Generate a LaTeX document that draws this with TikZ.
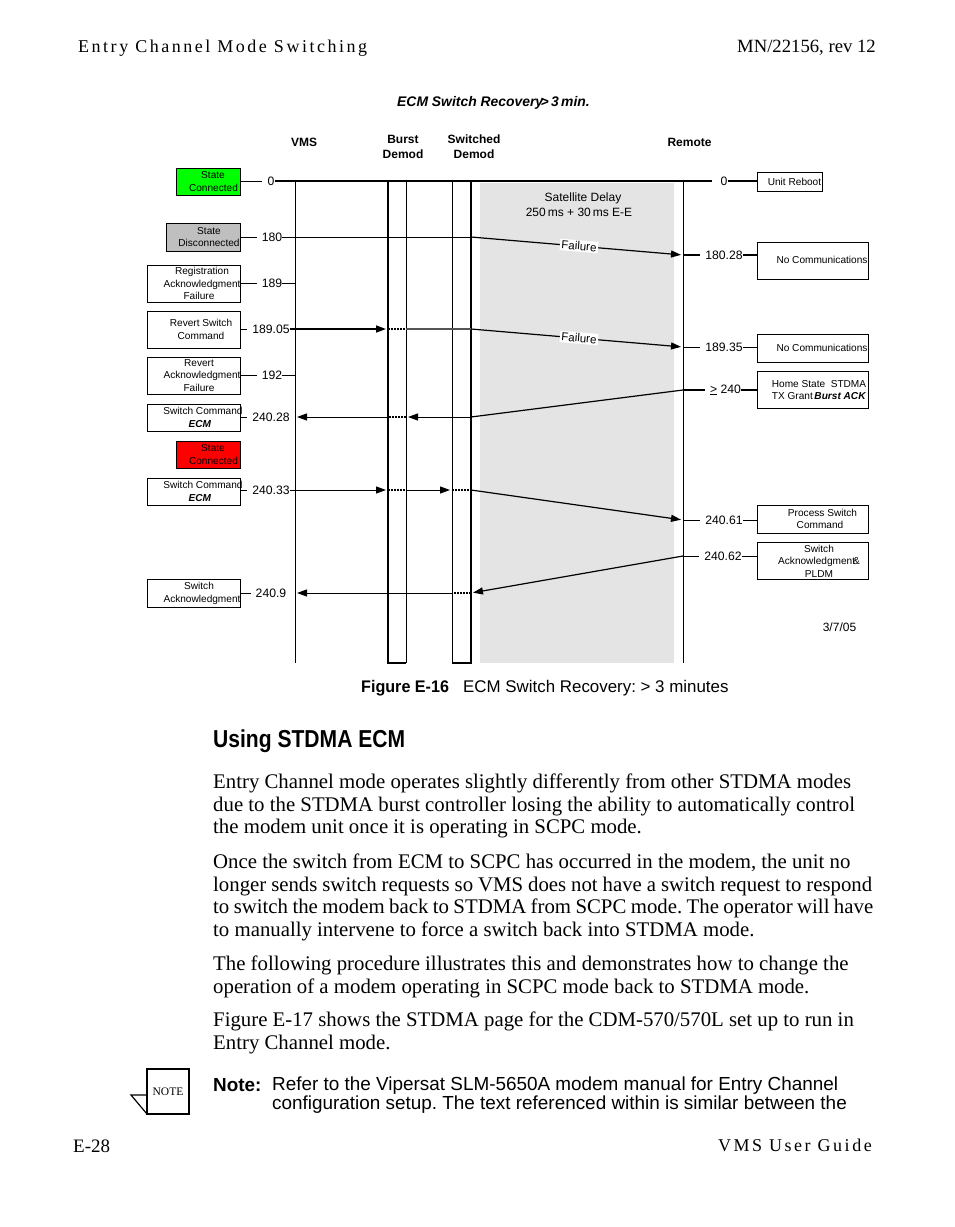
\documentclass[tikz,border=0pt]{standalone}
\usepackage{fontspec}
\setmainfont{Liberation Serif}
\setsansfont{Liberation Sans}
\newfontfamily\spacedfont[LetterSpace=14]{Liberation Serif}
\newfontfamily\narrowfont[FakeStretch=0.86]{Liberation Sans}
\newfontfamily\capfont[FakeStretch=0.96]{Liberation Sans}
\usetikzlibrary{arrows.meta}
\definecolor{ecmgreen}{HTML}{00FF00}
\definecolor{ecmred}{HTML}{FF0000}
\definecolor{ecmgrey}{HTML}{BFBFBF}
\definecolor{delaygrey}{HTML}{E4E4E4}
\definecolor{crossgrey}{HTML}{555555}

\begin{document}
\frenchspacing
\begin{tikzpicture}[
        x=1pt, y=-1pt,
        evbox/.style={draw=black, line width=1pt, inner sep=0pt},
        boxtxt/.style={font=\sffamily\fontsize{10.1}{12.5}\selectfont, align=center, inner sep=0pt},
        tlbl/.style={font=\sffamily\fontsize{12.2}{14}\selectfont, inner sep=0pt},
        headlbl/.style={font=\sffamily\bfseries\fontsize{12}{15}\selectfont, align=center, inner sep=0pt},
        paralbl/.style={font=\fontsize{20.8}{22.8}\selectfont, align=left, anchor=north west, inner sep=0pt},
        faillbl/.style={font=\sffamily\fontsize{11.5}{13}\selectfont, fill=white, rotate=-5, inner sep=1.5pt},
        stub/.style={line width=1pt, shorten >=5pt},
        msg/.style={line width=1pt, -{Triangle[length=10pt,width=7pt]}, shorten >=2pt},
        cross/.style={line width=1.2pt, dash pattern=on 2pt off 1pt},
      ]
      \useasboundingbox (0,0) rectangle (954,1227);
      \fill[white] (0,0) rectangle (954,1227);

      % Running head and foot
      \node[font=\spacedfont\fontsize{18}{20}\selectfont, anchor=west, inner sep=0pt] (runhead) at (78,48) {Entry Channel Mode Switching};
      \node[font=\fontsize{18.7}{20}\selectfont, anchor=east, inner sep=0pt] (runrev) at (876,47.5) {MN/22156, rev 12};
      \node[font=\fontsize{19}{20}\selectfont, anchor=west, inner sep=0pt] (runpage) at (73,1146) {E-28};
      \node[font=\spacedfont\fontsize{18}{20}\selectfont, anchor=east, inner sep=0pt] (runguide) at (872,1145.5) {VMS User Guide};

      % Satellite delay band
      \fill[delaygrey] (480,183) rectangle (674,663);

      % Lifelines
      \coordinate (vms) at (295,182);
      \coordinate (burstl) at (388,182);
      \coordinate (burstr) at (406,182);
      \coordinate (swl) at (452,182);
      \coordinate (swr) at (471,182);
      \coordinate (remote) at (683,182);
      \draw[line width=1pt] (vms) -- (295,663);
      \draw[line width=1pt] (remote) -- (683,663);
      \draw[line width=1pt] (burstr) -- (406,663);
      \draw[line width=1pt] (swl) -- (452,663);
      \draw[line width=1.8pt] (burstl) -- (388,663) -- (406,663);
      \draw[line width=1.8pt] (452,663) -- (471,663) -- (swr);

      % Title and column heads
      \node[font=\sffamily\bfseries\itshape\fontsize{13.9}{15}\selectfont, inner sep=0pt] (title) at (493.5,103) {ECM Switch Recovery\hspace{-2.5pt}>\,3\,min.};
      \node[headlbl] (hvms) at (304,142.5) {VMS};
      \node[headlbl] (hburst) at (403,147) {Burst\\Demod};
      \node[headlbl] (hsw) at (474,147) {Switched\\Demod};
      \node[headlbl] (hrem) at (689.5,142.5) {Remote};
      \node[tlbl, align=center, font=\sffamily\fontsize{12}{15}\selectfont] (hdelay) at (579,204.5) {\hspace*{8pt}Satellite Delay\\250\,ms + 30\,ms E-E};

      % Left boxes
      \node[evbox, fill=ecmgreen, minimum width=64pt, minimum height=27pt] (bconn) at (208,181.5) {};
      \node[boxtxt] at (208,181.5) {\hspace*{10pt}State\\\hspace*{11pt}Connected};
      \node[evbox, fill=ecmgrey, minimum width=74pt, minimum height=28pt] (bdisc) at (203,237) {};
      \node[boxtxt] at (209,237) {State\\Disconnected};
      \node[evbox, minimum width=93pt, minimum height=37pt] (breg) at (193.5,283.5) {};
      \node[boxtxt] at (202,283.5) {Registration\\Acknowledgment\\\hspace*{-6pt}Failure};
      \node[evbox, minimum width=93pt, minimum height=37pt] (brev) at (193.5,329.5) {};
      \node[boxtxt, font=\sffamily\fontsize{10.1}{13}\selectfont] at (201,329.5) {Revert Switch\\Command};
      \node[evbox, minimum width=93pt, minimum height=37pt] (brack) at (193.5,375.5) {};
      \node[boxtxt] at (202,375.5) {\hspace*{-6pt}Revert\\Acknowledgment\\\hspace*{-6pt}Failure};
      \node[evbox, minimum width=93pt, minimum height=27pt] (bcmda) at (193.5,417.5) {};
      \node[boxtxt, font=\sffamily\fontsize{10.1}{13}\selectfont] at (203,417.5) {Switch Command\\\hspace*{-6pt}\textbf{\textit{ECM}}};
      \node[evbox, fill=ecmred, minimum width=64pt, minimum height=27pt] (bred) at (208,454.5) {};
      \node[boxtxt] at (208,454.5) {\hspace*{10pt}State\\\hspace*{11pt}Connected};
      \node[evbox, minimum width=93pt, minimum height=27pt] (bcmdb) at (193.5,491.5) {};
      \node[boxtxt, font=\sffamily\fontsize{10.1}{13}\selectfont] at (203,491.5) {Switch Command\\\hspace*{-6pt}\textbf{\textit{ECM}}};
      \node[evbox, minimum width=93pt, minimum height=28pt] (back) at (193.5,593) {};
      \node[boxtxt] at (202,593.5) {\hspace*{-6pt}Switch\\Acknowledgment};

      % Right boxes
      \node[evbox, line width=0.8pt, minimum width=65pt, minimum height=19pt] (rboot) at (789.5,181.5) {};
      \node[boxtxt] at (794.5,182) {Unit Reboot};
      \node[evbox, line width=0.8pt, minimum width=111pt, minimum height=37pt] (rnoa) at (812.5,260.5) {};
      \node[boxtxt] at (822,260) {No Communications};
      \node[evbox, line width=0.8pt, minimum width=111pt, minimum height=28pt] (rnob) at (812.5,348) {};
      \node[boxtxt] at (822,348) {No Communications};
      \node[evbox, line width=0.8pt, minimum width=111pt, minimum height=37pt] (rhome) at (812.5,390) {};
      \node[boxtxt] at (819,390) {Home State\ \ STDMA\\TX Grant\,\textbf{\textit{Burst ACK}}};
      \node[evbox, line width=0.8pt, minimum width=111pt, minimum height=28pt] (rproc) at (812.5,519) {};
      \node[boxtxt] at (820,519) {\hspace*{5pt}Process Switch\\Command};
      \node[evbox, line width=0.8pt, minimum width=111pt, minimum height=37pt] (rsack) at (812.5,560.5) {};
      \node[boxtxt] at (819,561) {Switch\\Acknowledgment\hspace{-2pt}\&\\PLDM};

      % Time labels, VMS side
      \node[tlbl] (t0) at (271,181) {0};
      \node[tlbl] (t180) at (272,237) {180};
      \node[tlbl] (t189) at (272,283) {189};
      \node[tlbl] (t18905) at (271,329) {189.05};
      \node[tlbl] (t192) at (272,375) {192};
      \node[tlbl] (t24028) at (271,417) {240.28};
      \node[tlbl] (t24033) at (271,490) {240.33};
      \node[tlbl] (t2409) at (271,593) {240.9};

      % Time labels, remote side
      \node[tlbl] (r0) at (724,181) {0};
      \node[tlbl] (r18028) at (724,255) {180.28};
      \node[tlbl] (r18935) at (724,347) {189.35};
      \node[tlbl] (r240) at (725.5,390) {\underline{>}\ 240};
      \node[tlbl] (r24061) at (724,520) {240.61};
      \node[tlbl] (r24062) at (723,556) {240.62};
      \node[tlbl, font=\sffamily\fontsize{12}{13}\selectfont] (datelbl) at (839.5,627) {3/7/05};

      % Time 0 rule
      \draw[line width=1.8pt, stub] (bconn.east |- t0) -- (t0.west);
      \draw[line width=1.8pt] (t0.east) -- (remote |- t0) -- (712,181);
      \draw[line width=1.8pt] (r0.east) -- (rboot.west |- r0);

      % 180: link lost
      \draw[line width=1pt, stub] (bdisc.east |- t180) -- (t180.west);
      \draw[line width=1pt] (t180.east) -- (t180 -| swr);
      \draw[msg, line width=1.2pt] (t180 -| swr) -- (r18028 -| remote);
      \draw[line width=1.8pt, shorten >=5pt] (r18028 -| remote) -- (r18028.west);
      \draw[line width=1.8pt] (r18028.east) -- (rnoa.west |- r18028);
      \node[faillbl] (faila) at (579,246) {Failure};

      % 189
      \draw[line width=1pt, stub] (breg.east |- t189) -- (t189.west);
      \draw[line width=1pt] (t189.east) -- (t189 -| vms);

      % 189.05: revert command
      \draw[line width=1.8pt, stub] (brev.east |- t18905) -- (t18905.west);
      \draw[msg, line width=1.6pt] (t18905.east) -- (t18905 -| burstl);
      \draw[cross] (t18905 -| burstl) -- (t18905 -| burstr);
      \draw[crossgrey, line width=1.4pt] (t18905 -| burstr) -- (t18905 -| swr);
      \draw[msg, line width=1.2pt] (t18905 -| swr) -- (r18935 -| remote);
      \draw[line width=1pt, shorten >=5pt] (r18935 -| remote) -- (r18935.west);
      \draw[line width=1pt] (r18935.east) -- (rnob.west |- r18935);
      \node[faillbl] (failb) at (579,338) {Failure};

      % 192
      \draw[line width=1pt, stub] (brack.east |- t192) -- (t192.west);
      \draw[line width=1pt] (t192.east) -- (t192 -| vms);

      % 240.28: command from the remote
      \draw[line width=1.8pt, shorten >=5pt] (r240 -| remote) -- (r240.west);
      \draw[line width=1.8pt] (r240.east) -- (rhome.west |- r240);
      \draw[line width=1.2pt] (r240 -| remote) -- (t24028 -| swr);
      \draw[line width=1pt] (t24028 -| swr) -- (t24028 -| swl);
      \draw[msg] (t24028 -| swl) -- (t24028 -| burstr);
      \draw[cross] (t24028 -| burstr) -- (t24028 -| burstl);
      \draw[msg] (t24028 -| burstl) -- (t24028 -| vms);
      \draw[line width=1pt, stub] (bcmda.east |- t24028) -- (t24028.west);

      % 240.33: switch command
      \draw[line width=1pt, stub] (bcmdb.east |- t24033) -- (t24033.west);
      \draw[msg] (t24033.east) -- (t24033 -| burstl);
      \draw[cross] (t24033 -| burstl) -- (t24033 -| burstr);
      \draw[msg] (t24033 -| burstr) -- (t24033 -| swl);
      \draw[cross] (t24033 -| swl) -- (t24033 -| swr);
      \draw[msg, line width=1.2pt] (t24033 -| swr) -- (r24061 -| remote);
      \draw[line width=1pt, shorten >=5pt] (r24061 -| remote) -- (r24061.west);
      \draw[line width=1pt] (r24061.east) -- (rproc.west |- r24061);

      % 240.62: acknowledgment
      \draw[line width=1pt, shorten >=5pt] (r24062 -| remote) -- (r24062.west);
      \draw[line width=1pt] (r24062.east) -- (rsack.west |- r24062);
      \draw[msg, line width=1.2pt] (r24062 -| remote) -- (t2409 -| swr);
      \draw[cross] (t2409 -| swr) -- (t2409 -| swl);
      \draw[msg] (t2409 -| swl) -- (t2409 -| vms);
      \draw[line width=1pt, stub] (back.east |- t2409) -- (t2409.west);

      % Caption
      \node[font=\capfont\bfseries\fontsize{16.8}{18}\selectfont, anchor=west, inner sep=0pt] (figno) at (361,688) {Figure E-16};
      \node[font=\sffamily\fontsize{16.9}{18}\selectfont, anchor=west, inner sep=0pt] (figcap) at (463,688) {ECM Switch Recovery: > 3 minutes};

      % Section text
      \node[font=\narrowfont\bfseries\fontsize{24.5}{26}\selectfont, anchor=west, inner sep=0pt] (sect) at (213,741) {Using STDMA ECM};
      \node[paralbl] (para1) at (213,773.5) {Entry Channel mode operates slightly differently from other STDMA modes\\due to the STDMA burst controller losing the ability to automatically control\\the modem unit once it is operating in SCPC mode.};
      \node[paralbl] (para2) at (213,853.5) {Once the switch from ECM to SCPC has occurred in the modem, the unit no\\\makebox[659pt][s]{longer sends switch requests so VMS does not have a switch request to respond}\\\makebox[660pt][s]{to switch the modem back to STDMA from SCPC mode. The operator will have}\\to manually intervene to force a switch back into STDMA mode.};
      \node[paralbl] (para3) at (213,955.5) {The following procedure illustrates this and demonstrates how to change the\\operation of a modem operating in SCPC mode back to STDMA mode.};
      \node[paralbl] (para4) at (213,1012) {Figure E-17 shows the STDMA page for the CDM-570/570L set up to run in\\Entry Channel mode.};

      % Note
      \draw[line width=1.2pt] (147,1095) -- (131,1095) -- (147,1114);
      \node[draw=black, line width=1.5pt, minimum width=42pt, minimum height=45pt, inner sep=0pt, font=\fontsize{11.5}{13}\selectfont] (noteicon) at (168,1091.5) {NOTE};
      \node[font=\sffamily\bfseries\fontsize{18.9}{20}\selectfont, anchor=west, inner sep=0pt] (notehd) at (213,1085) {Note:};
      \node[font=\sffamily\fontsize{18.9}{19}\selectfont, align=left, anchor=west, inner sep=0pt] (notetxt) at (272,1095) {Refer to the Vipersat SLM-5650A modem manual for Entry Channel\\configuration setup. The text referenced within is similar between the};
    \end{tikzpicture}
\end{document}
